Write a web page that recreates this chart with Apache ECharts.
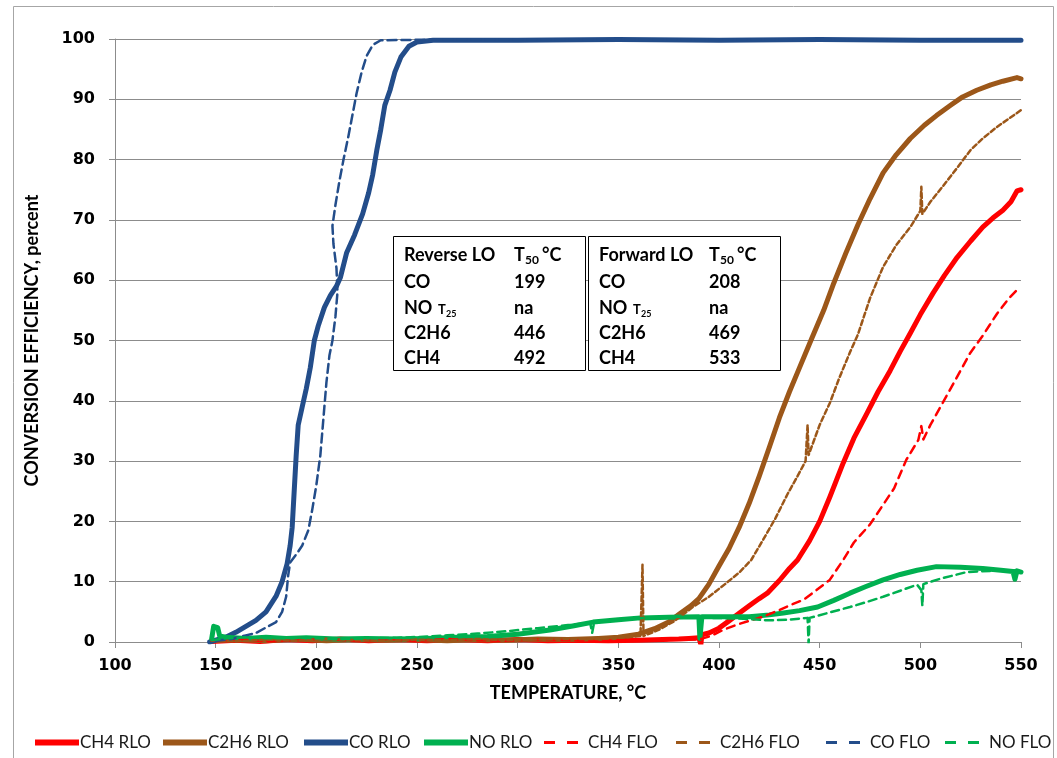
<!DOCTYPE html>
<html>
<head>
<meta charset="utf-8">
<title>Conversion efficiency vs temperature</title>
<script src="https://cdn.jsdelivr.net/npm/echarts@6/dist/echarts.min.js"></script>
<style>
  html, body { margin: 0; padding: 0; background: #ffffff; }
  #chart { width: 1057px; height: 758px; }
</style>
</head>
<body>
<div id="chart"></div>
<script>
// Temperature axis (°C) and conversion-efficiency axis (percent)
const xTicks = { min: 100, max: 550, step: 50 };
const yTicks = { min: 0, max: 100, step: 10 };

const seriesNames = ['CH4 RLO', 'C2H6 RLO', 'CO RLO', 'NO RLO', 'CH4 FLO', 'C2H6 FLO', 'CO FLO', 'NO FLO'];

// Reverse light-off (RLO) curves: [temperature, conversion %]
const ch4Rlo = [
  [148,0.1],[160,0.3],[172,0.1],[185,0.4],[198,0.2],[212,0.5],[226,0.2],[240,0.4],[255,0.2],[270,0.4],
  [285,0.2],[300,0.4],[315,0.2],[330,0.3],[345,0.2],[360,0.3],[372,0.4],[380,0.5],[385,0.6],[390,0.7],
  [391,-0.4],[391.5,1.2],[395,1.5],[400,2.3],[405,3.5],[409,4.5],[415,6],[420,7.2],[424,8.1],[430,10.2],
  [435,12.2],[439,13.6],[445,16.8],[450,20],[455,24],[461.7,29.7],[467,33.8],[473.6,38],[479,41.5],[485,45],
  [490,48.2],[495,51.2],[500,54.3],[506.4,57.9],[512,60.8],[518.3,63.8],[525,66.5],[531,68.8],[536,70.3],
  [541,71.6],[545,73],[548,74.8],[550,75]
];
const c2h6Rlo = [
  [148,0.2],[160,0.4],[175,0.2],[190,0.5],[205,0.2],[220,0.4],[235,0.3],[250,0.4],[265,0.2],[280,0.4],
  [295,0.3],[310,0.5],[325,0.4],[340,0.6],[350,0.8],[360,1.3],[368,2.2],[375,3.3],[381,4.8],[386,6],
  [390,7.2],[395,9.6],[400,12.6],[405,15.5],[410,19],[415,23],[420,27.5],[425,32.3],[430,37.2],[435,41.5],
  [440,45.5],[446,50.3],[452,55],[457,59.5],[463,64.5],[469,69.2],[475,73.5],[481.5,77.8],[488,80.8],
  [495,83.5],[502,85.7],[508,87.3],[515,89],[521,90.4],[528,91.5],[535,92.4],[541,93],[548,93.6],[550,93.4]
];
const coRlo = [
  [147,0],[150,0.3],[155,0.8],[160,1.6],[165,2.6],[170,3.6],[175,5],[180,7.6],[183,10],[185.5,13],
  [187,16],[188,19],[189,25],[190,31],[191,36],[193,39],[195,42],[197,45.5],[199,50],[201,52.5],
  [204,55.5],[207,57.5],[210,59],[212,60.5],[215,64.5],[219,67.5],[223,71],[226,74.5],[228,77.5],
  [230,81.5],[232,85],[234,89],[236.6,91.5],[239,94.5],[242,97],[246,98.8],[250,99.5],[258,99.8],
  [300,99.8],[350,99.9],[400,99.8],[450,99.9],[500,99.8],[550,99.8]
];
const noRlo = [
  [148,0.5],[149,2.6],[151,2.4],[152,1],[155,0.8],[165,0.6],[175,0.8],[185,0.6],[195,0.7],[210,0.5],
  [225,0.6],[240,0.5],[255,0.6],[270,0.8],[285,0.9],[300,1.3],[316,2],[328,2.7],[337.5,3.3],[350,3.7],
  [361,4],[375,4.1],[390,4.2],[390.5,0.6],[391.5,4.2],[405,4.2],[415,4.2],[425,4.5],[432,4.8],[440,5.2],
  [449,5.8],[457,6.9],[465,8.1],[473,9.2],[481.5,10.3],[490,11.2],[498.4,11.9],[508,12.5],[520,12.4],
  [531,12.2],[540,11.9],[546,11.7],[547,10.4],[548,11.8],[550,11.6]
];

// Forward light-off (FLO) curves: [temperature, conversion %]
const ch4Flo = [
  [148,0.2],[162,0.4],[176,0.1],[190,0.3],[205,0.5],[220,0.2],[235,0.4],[250,0.2],[265,0.5],[280,0.3],
  [295,0.2],[310,0.4],[325,0.3],[340,0.2],[355,0.4],[370,0.3],[382,0.4],[390,0.4],[396,1],[402,2],
  [410,3],[416,3.6],[422,4.2],[430,5.3],[436,6.2],[442,7],[448,8.5],[455,10.3],[461.7,13.6],[467,16.5],
  [475,19.5],[481,22.5],[487,25.5],[493,30.2],[499,33.5],[500.5,35.8],[501.5,33.6],[505,36],[511,39.6],
  [517,43.2],[524.7,47.9],[531,50.8],[538,54.4],[544,57],[549.5,58.9]
];
const c2h6Flo = [
  [148,0.3],[160,0.1],[175,0.4],[190,0.2],[205,0.5],[220,0.3],[235,0.2],[250,0.4],[265,0.3],[280,0.5],
  [295,0.3],[310,0.4],[325,0.5],[340,0.5],[355,0.8],[361,1],[362,12.8],[362.5,1],[370,2],[378,3.5],
  [387,5.8],[395,7.5],[403,9.6],[410,11.5],[416,13.6],[422,17],[428,20.5],[434,24.5],[439,27.5],[443,30],
  [444,36],[444.5,31],[450,36],[455,39.6],[460,44],[465,48],[469,51],[475,57],[481.5,62.2],[488,65.8],
  [495,68.8],[500,71.5],[500.5,75.5],[501,71],[505,73],[511,75.5],[518,78.5],[525,81.6],[531,83.5],
  [538,85.4],[544,86.8],[550,88.2]
];
const coFlo = [
  [150,0.2],[158,0.5],[165,1.1],[170,1.5],[175,2.4],[180,3.3],[183,5],[185,7.5],[186,11],[187,13.2],
  [190,14.5],[193,16],[196,18.5],[198,22],[200,26],[202,31],[203.5,37],[205,43],[206.5,47.5],[208,50],
  [209.5,54],[210.5,58],[210,62],[208.5,66],[208,69],[209.5,72.5],[211.5,76.5],[213.5,80],[216,84],
  [218,87.5],[220,91],[222.5,94.5],[225,97.2],[228,99],[232,99.8],[260,99.9],[300,99.9],[350,99.9],
  [400,99.9],[450,99.9],[500,99.9],[550,99.9]
];
const noFlo = [
  [148,0.3],[155,0.6],[165,0.8],[180,0.6],[195,0.7],[210,0.5],[225,0.6],[240,0.7],[255,0.9],[265,1.1],
  [280,1.4],[295,1.8],[310,2.3],[325,2.8],[336,3.2],[337,1.5],[338,3.3],[350,3.8],[365,4],[380,4.2],
  [395,4],[410,3.9],[424,3.6],[435,3.7],[444,4],[444.5,-0.3],[445,4],[455,4.9],[465,5.8],[473,6.6],
  [481.5,7.5],[490,8.5],[498.4,9.5],[500.5,8.6],[501,6],[501.5,9.6],[510,10.5],[523,11.6],[535,11.8],
  [548,11.9],[550,11.8]
];

// T50 light-off temperatures shown in the two summary boxes
const reverseRows = [['CO', '199'], ['NO', 'na'], ['C2H6', '446'], ['CH4', '492']];
const forwardRows = [['CO', '208'], ['NO', 'na'], ['C2H6', '469'], ['CH4', '533']];

const seriesData = [ch4Rlo, c2h6Rlo, coRlo, noRlo, ch4Flo, c2h6Flo, coFlo, noFlo];
const colors = ['#ff0000', '#9c5719', '#234d8a', '#00b050', '#ff0000', '#9c5719', '#234d8a', '#00b050'];
const dashed = [false, false, false, false, true, true, true, true];
const dashPatterns = [null, null, null, null, [8, 6], [5, 3], [9, 5], [8, 5]];

const textFont = 'Lato, "Open Sans", sans-serif';
const tickFont = '"DejaVu Sans", Verdana, sans-serif';

const series = seriesNames.map((name, i) => ({
  name: name,
  type: 'line',
  data: seriesData[i],
  symbol: 'none',
  showSymbol: false,
  smooth: false,
  animation: false,
  lineStyle: {
    color: colors[i],
    width: dashed[i] ? 2.5 : 5,
    type: dashed[i] ? dashPatterns[i] : 'solid',
    cap: 'round',
    join: 'round'
  },
  itemStyle: { color: colors[i] },
  z: 2 + i
}));

// Legend icons: a thick bar for solid curves, two short dashes for dashed curves
const solidIcon = 'path://M0,0H44V6H0Z';
const dashIcon = 'path://M0,0H11V3H0Z M23,0H34V3H23Z';

// One legend block per series so the row keeps its spacing
const legendLefts = [30, 158, 299, 419, 539, 671, 821, 940];
const legends = seriesNames.map((name, i) => ({
  data: [{ name: name, icon: dashed[i] ? dashIcon : solidIcon, itemStyle: { color: colors[i] } }],
  left: legendLefts[i],
  top: 729,
  itemWidth: dashed[i] ? 34 : 44,
  itemHeight: dashed[i] ? 3 : 6,
  textStyle: { fontFamily: textFont, fontSize: 17, color: '#1a1a1a', padding: [0, 0, 0, dashed[i] ? 5 : -4] },
  selectedMode: false
}));

// Summary boxes
function boxElements(x0, title, rows) {
  const els = [];
  const bold = 'bold 18px ' + textFont;
  els.push({ type: 'rect', shape: { x: x0 + 0.5, y: 236.5, width: 192, height: 134 },
             style: { fill: '#ffffff', stroke: '#000000', lineWidth: 1 }, z: 50 });
  const tx = x0 + 11, vx = x0 + 121;
  const rowY = [255, 282, 308, 333, 358];
  const txt = (text, x, y, font) => ({ type: 'text', z: 51,
    style: { text: text, x: x, y: y, font: font, fill: '#000000', textVerticalAlign: 'middle', verticalAlign: 'middle' } });
  els.push(txt(title, tx, rowY[0], bold));
  els.push(txt('T', vx, rowY[0], bold));
  els.push(txt('50', vx + 11, rowY[0] + 5, 'bold 12px ' + textFont));
  els.push(txt('°C', vx + 28, rowY[0], bold));
  rows.forEach((r, k) => {
    const y = rowY[k + 1];
    els.push(txt(r[0], tx, y, bold));
    if (r[0] === 'NO') {
      els.push(txt('T', tx + 34, y + 2, 'bold 13px ' + textFont));
      els.push(txt('25', tx + 42, y + 6, 'bold 9px ' + textFont));
    }
    els.push(txt(r[1], vx, y, bold));
  });
  return els;
}

const graphics = [
  { type: 'rect', shape: { x: 13.5, y: 6.5, width: 1040, height: 800 },
    style: { fill: 'none', stroke: '#a6a6a6', lineWidth: 1 }, z: -10, silent: true }
].concat(boxElements(393, 'Reverse LO', reverseRows), boxElements(588, 'Forward LO', forwardRows));

const chart = echarts.init(document.getElementById('chart'), null, { renderer: 'canvas' });
chart.setOption({
  backgroundColor: '#ffffff',
  animation: false,
  grid: { left: 115, right: 36, top: 39, bottom: 116, containLabel: false },
  xAxis: {
    type: 'value',
    min: xTicks.min, max: xTicks.max, interval: xTicks.step,
    name: 'TEMPERATURE, °C',
    nameLocation: 'middle',
    nameGap: 42,
    nameTextStyle: { fontFamily: textFont, fontWeight: 'bold', fontSize: 18, color: '#000000' },
    axisLine: { show: true, onZero: false, lineStyle: { color: '#8c8c8c', width: 1 } },
    axisTick: { show: true, inside: false, length: 6, lineStyle: { color: '#8c8c8c' } },
    axisLabel: { fontFamily: tickFont, fontWeight: 'bold', fontSize: 16, color: '#000000', margin: 16 },
    splitLine: { show: false }
  },
  yAxis: {
    type: 'value',
    min: yTicks.min, max: yTicks.max, interval: yTicks.step,
    name: 'CONVERSION EFFICIENCY, percent',
    nameLocation: 'middle',
    nameRotate: 90,
    nameGap: 74,
    nameTextStyle: { fontFamily: textFont, fontWeight: 'bold', fontSize: 18, color: '#000000' },
    axisLine: { show: true, lineStyle: { color: '#8c8c8c', width: 1 } },
    axisTick: { show: true, inside: false, length: 6, lineStyle: { color: '#8c8c8c' } },
    axisLabel: { fontFamily: tickFont, fontWeight: 'bold', fontSize: 16, color: '#000000', margin: 20 },
    splitLine: { show: true, lineStyle: { color: '#8c8c8c', width: 1 } }
  },
  legend: legends,
  graphic: graphics,
  series: series
});
</script>
</body>
</html>
